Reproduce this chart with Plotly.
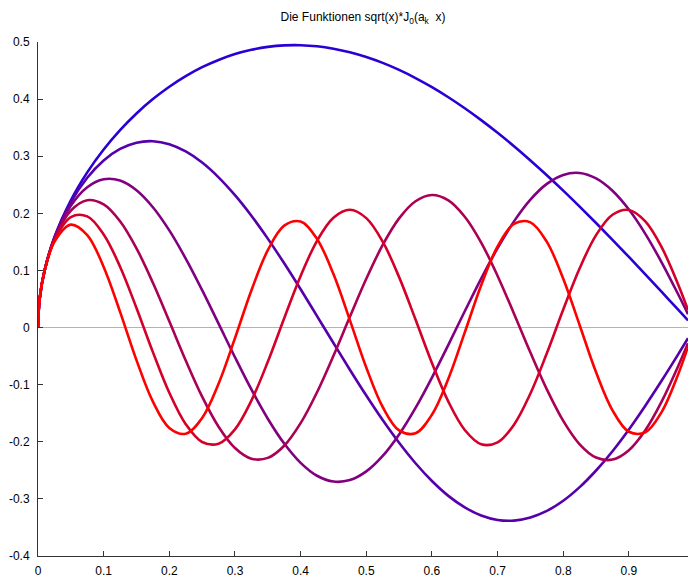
import plotly.graph_objects as go

# sample positions (x) read along the horizontal axis
x_vals = [0, 0.0025, 0.01, 0.025, 0.05, 0.075, 0.1, 0.125, 0.15, 0.175, 0.2, 0.225,
          0.25, 0.275, 0.3, 0.325, 0.35, 0.375, 0.4, 0.425, 0.45, 0.475, 0.5, 0.525,
          0.55, 0.575, 0.6, 0.625, 0.65, 0.675, 0.7, 0.725, 0.75, 0.775, 0.8, 0.825,
          0.85, 0.875, 0.9, 0.925, 0.95, 0.975, 0.99]

# values of the six curves (k = 1 .. 6)
y_k1 = [0, 0.05, 0.1, 0.1580, 0.2228, 0.2717, 0.3117, 0.3456, 0.3748, 0.4000, 0.4217, 0.4402,
        0.4559, 0.4685, 0.4788, 0.4863, 0.4914, 0.4941, 0.4944, 0.4925, 0.4883, 0.4821, 0.4737,
        0.4634, 0.4511, 0.4369, 0.4210, 0.4033, 0.3840, 0.3632, 0.3410, 0.3175, 0.2926, 0.2667,
        0.2397, 0.2117, 0.1830, 0.1536, 0.1236, 0.0932, 0.0623, 0.0312, 0.0125]
y_k2 = [0, 0.05, 0.0999, 0.1574, 0.2194, 0.2623, 0.2926, 0.3128, 0.3237, 0.3263, 0.3210, 0.3083,
        0.2889, 0.2631, 0.2318, 0.1958, 0.1557, 0.1125, 0.0670, 0.0201, -0.0271, -0.0738, -0.1190,
        -0.1620, -0.2018, -0.2376, -0.2687, -0.2947, -0.3149, -0.3291, -0.3369, -0.3380, -0.3326,
        -0.3211, -0.3032, -0.2794, -0.2503, -0.2165, -0.1784, -0.1368, -0.0928, -0.0470, -0.0187]
y_k3 = [0, 0.05, 0.0998, 0.1563, 0.2133, 0.2458, 0.2597, 0.2575, 0.2405, 0.2107, 0.1701, 0.1207,
        0.0654, 0.0068, -0.0520, -0.1084, -0.1596, -0.2031, -0.2369, -0.2595, -0.2697, -0.2671,
        -0.2519, -0.2248, -0.1871, -0.1407, -0.0875, -0.0302, 0.0285, 0.0858, 0.1391, 0.1859,
        0.2239, 0.2515, 0.2673, 0.2706, 0.2611, 0.2395, 0.2066, 0.1641, 0.1138, 0.0583, 0.0235]
y_k4 = [0, 0.05, 0.0997, 0.1547, 0.2046, 0.2229, 0.2155, 0.1861, 0.1387, 0.0784, 0.0109, -0.0576,
        -0.1210, -0.1736, -0.2109, -0.2296, -0.2282, -0.2069, -0.1674, -0.1133, -0.0494, 0.0188,
        0.0854, 0.1446, 0.1912, 0.2212, 0.2321, 0.2228, 0.1941, 0.1489, 0.0904, 0.0243, -0.0438,
        -0.1083, -0.1634, -0.2044, -0.2276, -0.2312, -0.2147, -0.1798, -0.1292, -0.0676, -0.0274]
y_k5 = [0, 0.05, 0.0994, 0.1526, 0.1935, 0.1946, 0.1631, 0.1066, 0.0343, -0.0430, -0.1142, -0.1692,
        -0.2004, -0.2034, -0.1782, -0.1280, -0.0600, 0.0164, 0.0904, 0.1519, 0.1924, 0.2062, 0.1916,
        0.1504, 0.0883, 0.0141, -0.0620, -0.1297, -0.1793, -0.2042, -0.2010, -0.1700, -0.1155,
        -0.0451, 0.0315, 0.1038, 0.1618, 0.1975, 0.2059, 0.1859, 0.1403, 0.0755, 0.0307]
y_k6 = [0, 0.05, 0.0992, 0.1501, 0.1802, 0.1619, 0.1062, 0.0275, -0.0570, -0.1297, -0.1758, -0.1859,
        -0.1582, -0.0983, -0.0185, 0.0650, 0.1354, 0.1785, 0.1856, 0.1552, 0.0936, 0.0131, -0.0700,
        -0.1391, -0.1801, -0.1850, -0.1526, -0.0896, -0.0085, 0.0742, 0.1421, 0.1814, 0.1842,
        0.1500, 0.0856, 0.0041, -0.0783, -0.1449, -0.1825, -0.1834, -0.1476, -0.0820, -0.0337]

series = [y_k1, y_k2, y_k3, y_k4, y_k5, y_k6]
series_names = ["k=1", "k=2", "k=3", "k=4", "k=5", "k=6"]
line_colors = ["rgb(42,0,212)", "rgb(85,0,170)", "rgb(128,0,128)",
               "rgb(170,0,85)", "rgb(212,0,42)", "rgb(255,0,0)"]

x_ticks = [0, 0.1, 0.2, 0.3, 0.4, 0.5, 0.6, 0.7, 0.8, 0.9]
x_ticklabels = ["0", "0.1", "0.2", "0.3", "0.4", "0.5", "0.6", "0.7", "0.8", "0.9"]
y_ticks = [-0.4, -0.3, -0.2, -0.1, 0, 0.1, 0.2, 0.3, 0.4, 0.5]
y_ticklabels = ["-0.4", "-0.3", "-0.2", "-0.1", "0", "0.1", "0.2", "0.3", "0.4", "0.5"]

title_text = "Die Funktionen sqrt(x)*J<sub>0</sub>(a<sub>k</sub>  x)"

fig = go.Figure()
for ys, nm, col in zip(series, series_names, line_colors):
    fig.add_trace(go.Scatter(x=x_vals, y=ys, mode="lines", name=nm,
                             line=dict(color=col, width=2.6, shape="spline", smoothing=1.0)))

axis_font = dict(family="Liberation Sans, Arial, Helvetica, sans-serif", size=12, color="black")

fig.update_layout(
    width=689, height=579,
    margin=dict(l=38, r=1, t=42, b=21, pad=0),
    paper_bgcolor="white", plot_bgcolor="white",
    showlegend=False,
    title=dict(text=title_text, x=(38 + 688) / 2 / 689, xanchor="center",
               y=1 - 17 / 579, yanchor="middle",
               font=dict(family="Liberation Sans, Arial, Helvetica, sans-serif", size=12, color="black")),
    font=axis_font,
)
fig.update_xaxes(range=[0, 0.99], tickvals=x_ticks, ticktext=x_ticklabels,
                 ticks="inside", ticklen=5, tickcolor="#333333", tickwidth=1,
                 showline=True, linecolor="#333333", linewidth=1, mirror=False,
                 showgrid=False, zeroline=False, ticklabelstandoff=4, tickfont=axis_font)
fig.update_yaxes(range=[-0.4, 0.5], tickvals=y_ticks, ticktext=y_ticklabels,
                 ticks="inside", ticklen=5, tickcolor="#333333", tickwidth=1,
                 showline=True, linecolor="#333333", linewidth=1, mirror=False,
                 showgrid=False, zeroline=True, zerolinecolor="rgb(110,230,110)", zerolinewidth=1,
                 ticklabelstandoff=5, tickfont=axis_font)

fig.write_html("out.html", config={"displayModeBar": False},
               post_script="document.body.style.margin='0px';document.body.style.overflow='hidden';")
